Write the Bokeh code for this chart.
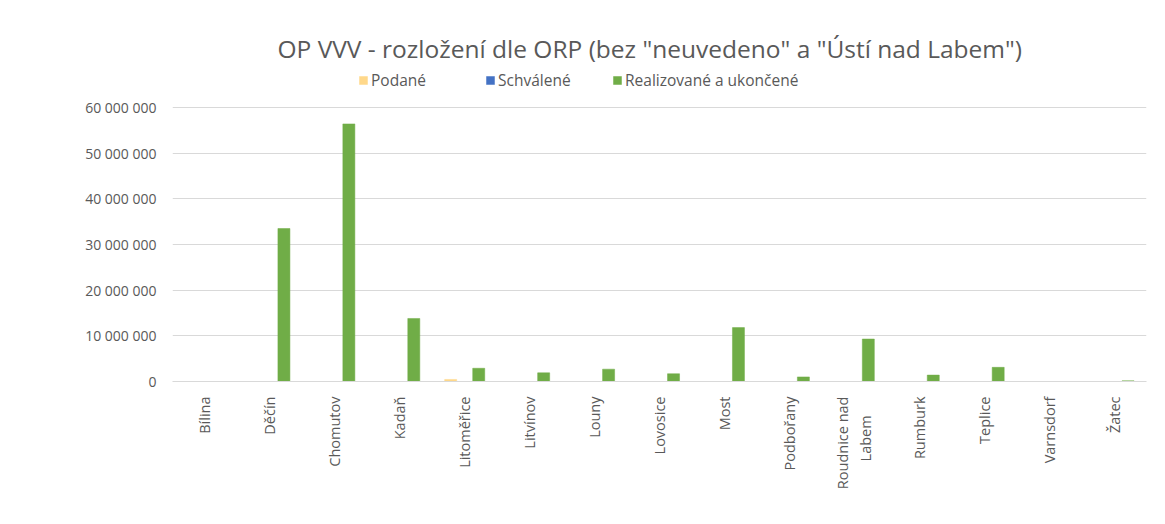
import math
from bokeh.plotting import figure
from bokeh.models import (ColumnDataSource, FactorRange, Range1d, FixedTicker,
                          Legend, LegendItem, Title)
from bokeh.transform import dodge
from bokeh.embed import file_html
from bokeh.resources import INLINE

categories = ["Bílina", "Děčín", "Chomutov", "Kadaň", "Litoměřice", "Litvínov",
              "Louny", "Lovosice", "Most", "Podbořany",
              "Roudnice nad\nLabem" + "\u00a0" * 5,
              "Rumburk", "Teplice", "Varnsdorf", "Žatec"]
podane = [0, 0, 0, 0, 450000, 0, 0, 0, 0, 0, 0, 0, 0, 0, 0]
schvalene = [0, 0, 0, 0, 0, 0, 0, 0, 0, 0, 0, 0, 0, 0, 0]
realizovane = [0, 33500000, 56400000, 13800000, 2900000, 1900000, 2700000,
               1700000, 11800000, 1000000, 9300000, 1400000, 3100000, 0, 150000]
y_ticks = [0, 10000000, 20000000, 30000000, 40000000, 50000000, 60000000]
y_tick_labels = ["0", "10 000 000", "20 000 000", "30 000 000", "40 000 000",
                 "50 000 000", "60 000 000"]
series_names = ["Podané", "Schválené", "Realizované a ukončené"]
series_colors = ["#ffd88a", "#4472c4", "#70ad47"]

FONT = "Open Sans"
GRAY = "#595959"

src = ColumnDataSource(dict(cat=categories, podane=podane,
                            schvalene=schvalene, realizovane=realizovane))

# y range extends above the top gridline to leave room for the legend
p = figure(x_range=FactorRange(*categories), y_range=Range1d(0, 68100000),
           width=1165, height=524, output_backend="svg", toolbar_location=None,
           min_border_left=172, min_border_right=19, min_border_top=70,
           min_border_bottom=143)
p.outline_line_color = None
p.background_fill_color = "white"
p.border_fill_color = "white"

bw = 0.185
off = 0.216
cols = ["podane", "schvalene", "realizovane"]
renderers = []
for i, (c, col) in enumerate(zip(cols, series_colors)):
    r = p.vbar(x=dodge("cat", (i - 1) * off, range=p.x_range), top=c, width=bw,
               source=src, fill_color=col, line_color=col, line_width=0.5)
    renderers.append(r)

# axes
p.yaxis.ticker = FixedTicker(ticks=y_ticks)
p.yaxis.major_label_overrides = {t: l for t, l in zip(y_ticks, y_tick_labels)}
p.yaxis.axis_line_color = None
p.yaxis.major_tick_line_color = None
p.yaxis.minor_tick_line_color = None
p.yaxis.major_label_text_font = FONT
p.yaxis.major_label_text_font_size = "14px"
p.yaxis.major_label_text_color = GRAY
p.yaxis.major_label_standoff = 10

p.xaxis.axis_line_color = "#d9d9d9"
p.xaxis.axis_line_width = 1
p.xaxis.major_tick_line_color = None
p.xaxis.minor_tick_line_color = None
p.xaxis.major_label_orientation = math.pi / 2
p.xaxis.major_label_text_font = FONT
p.xaxis.major_label_text_font_size = "14.5px"
p.xaxis.major_label_text_color = GRAY
p.xaxis.major_label_standoff = 9

p.xgrid.grid_line_color = None
p.ygrid.grid_line_color = "#d9d9d9"
p.ygrid.grid_line_width = 1

legend = Legend(items=[LegendItem(label=n, renderers=[r])
                       for n, r in zip(series_names, renderers)],
                orientation="horizontal", location=(186, 290),
                label_text_font=FONT, label_text_font_size="15.5px",
                label_text_color=GRAY, glyph_width=10, glyph_height=10,
                label_standoff=3, label_width=108, spacing=6,
                border_line_color=None, background_fill_alpha=0,
                padding=0, margin=0)
p.add_layout(legend, "center")

p.title = Title(text='OP VVV - rozložení dle ORP (bez "neuvedeno" a "Ústí nad Labem")',
                align="left", text_font=FONT, text_font_size="24.5px",
                text_font_style="normal", text_color=GRAY, offset=105,
                standoff=12)
p.title_location = "above"

open("out.html", "w").write(file_html(p, INLINE))
